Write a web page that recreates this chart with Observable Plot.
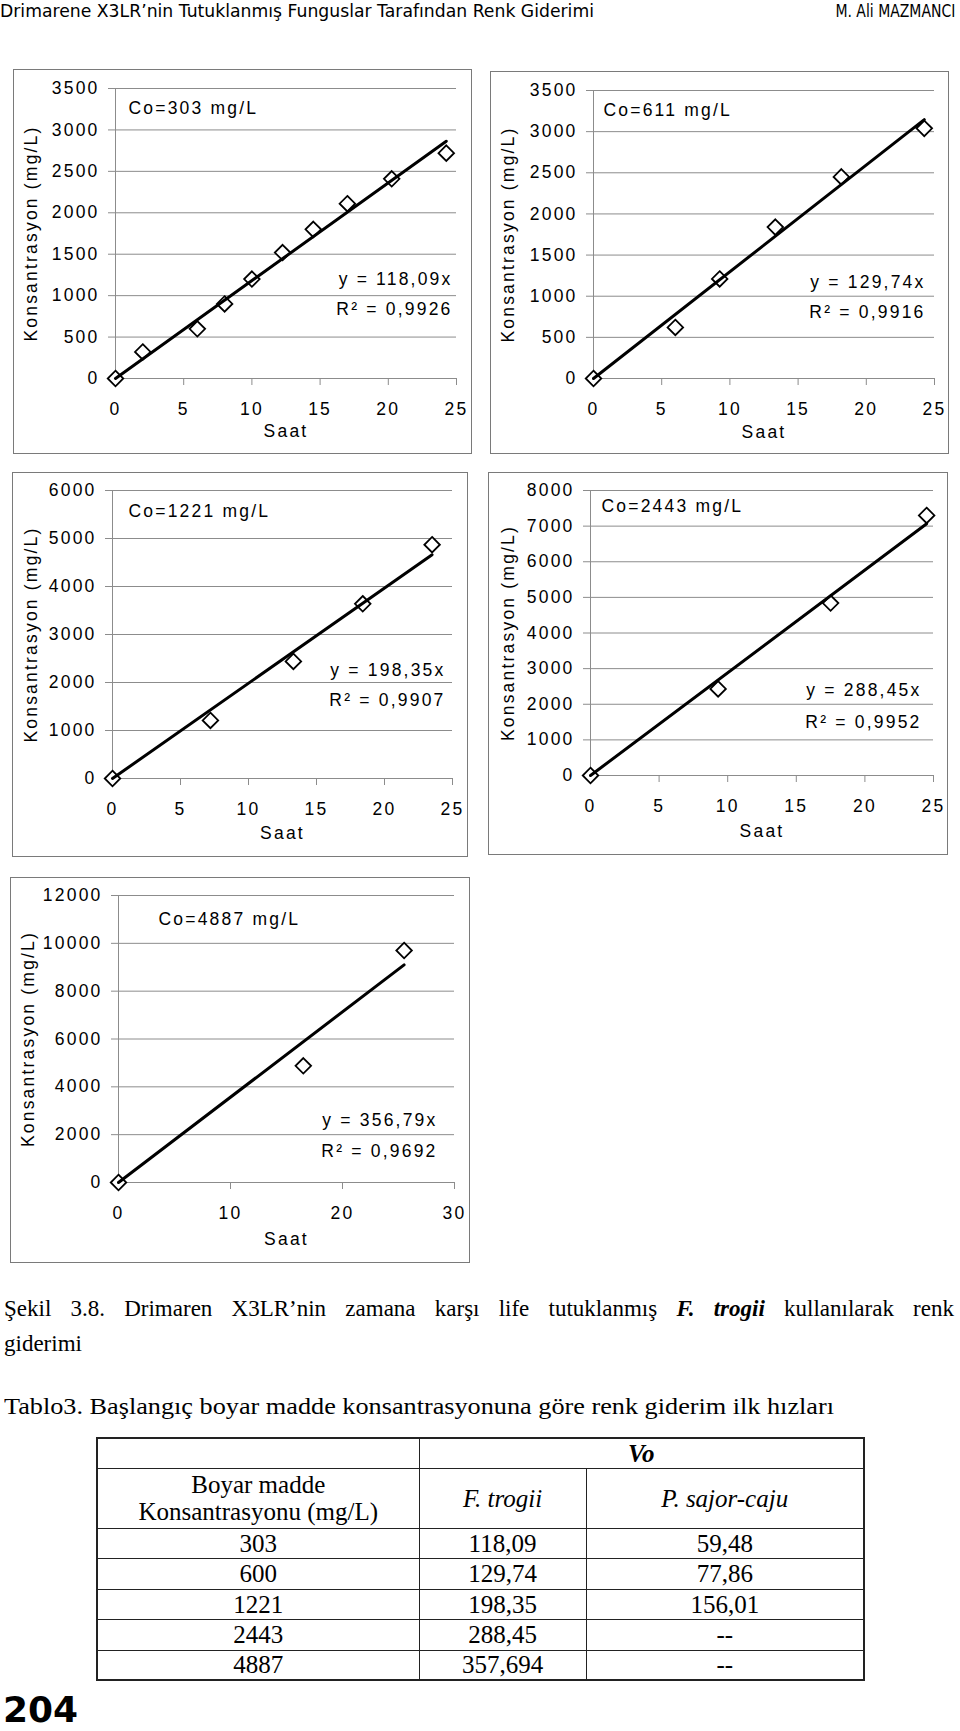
<!DOCTYPE html>
<html><head><meta charset="utf-8">
<script src="https://cdn.jsdelivr.net/npm/d3@7"></script>
<script src="https://cdn.jsdelivr.net/npm/@observablehq/plot@0.6"></script>
<style>
html,body{margin:0;padding:0;background:#fff;}
body{width:960px;height:1731px;position:relative;overflow:hidden;}
.t{position:absolute;white-space:nowrap;line-height:1;}
.fit{display:inline-block;}
.box{position:absolute;border:1px solid #7a7a7a;box-sizing:border-box;pointer-events:none;}
.chart{position:absolute;}
table.tab{position:absolute;left:96px;top:1437px;width:767px;border-collapse:collapse;table-layout:fixed;
  font-family:"Liberation Serif","Times New Roman",serif;font-size:25px;color:#000;border:2px solid #222;}
table.tab td{border:1.5px solid #222;text-align:center;vertical-align:middle;padding:0;line-height:27px;}
</style></head><body>
<script>
// ---------- data ----------
const coLabels = ["Co=303 mg/L", "Co=611 mg/L", "Co=1221 mg/L", "Co=2443 mg/L", "Co=4887 mg/L"];
const slopes = [118.09, 129.74, 198.35, 288.45, 356.79];
const slopeLabels = ["118,09", "129,74", "198,35", "288,45", "356,79"];
const r2Labels = ["0,9926", "0,9916", "0,9907", "0,9952", "0,9692"];

const saat303 = [0, 2, 6, 8, 10, 12.25, 14.5, 17, 20.25, 24.25];
const kons303 = [0, 320, 600, 900, 1200, 1520, 1800, 2110, 2410, 2720];
const saat611 = [0, 6, 9.25, 13.33, 18.17, 24.25];
const kons611 = [0, 620, 1210, 1840, 2450, 3040];
const saat1221 = [0, 7.2, 13.3, 18.4, 23.5];
const kons1221 = [0, 1210, 2440, 3640, 4870];
const saat2443 = [0, 9.3, 17.5, 24.5];
const kons2443 = [0, 2430, 4840, 7300];
const saat4887 = [0, 16.5, 25.5];
const kons4887 = [0, 4880, 9700];

const yMaxes = [3500, 3500, 6000, 8000, 12000];
const yTickSteps = [500, 500, 1000, 1000, 2000];
const xMaxes = [25, 25, 25, 25, 30];
const xTickSteps = [5, 5, 5, 5, 10];
const xTitle = "Saat";
const yTitle = "Konsantrasyon (mg/L)";

const tableConc = ["303", "600", "1221", "2443", "4887"];
const tableFtrogii = ["118,09", "129,74", "198,35", "288,45", "357,694"];
const tablePsajor = ["59,48", "77,86", "156,01", "--", "--"];

const saatSeries = [saat303, saat611, saat1221, saat2443, saat4887];
const konsSeries = [kons303, kons611, kons1221, kons2443, kons4887];

// ---------- layout (positions only) ----------
const layouts = [
  {box:[13,69,472,454], frame:[115,88,456,378], co:[13,25], eq:[4,94,64], saat:58, yt:79},
  {box:[490,71,949,454], frame:[593,90,934,378], co:[10,25], eq:[9,91,61], saat:59, yt:80},
  {box:[12,472,468,857], frame:[112,490,452,778], co:[16,26], eq:[7,103,73], saat:60, yt:76},
  {box:[488,472,948,855], frame:[590,490,933,775], co:[11,21], eq:[12,80,48], saat:61, yt:77},
  {box:[10,877,470,1263], frame:[118,895,454,1182], co:[40,29], eq:[17,57,26], saat:62, yt:85}
];
const GRID = "#8c8c8c";

function drawChart(i) {
  const L = layouts[i];
  const data = saatSeries[i].map((s, j) => ({saat: s, kons: konsSeries[i][j]}));
  const xEnd = d3.max(saatSeries[i]);
  const fit = [{saat: 0, kons: 0}, {saat: xEnd, kons: slopes[i] * xEnd}];
  const yT = d3.range(0, yMaxes[i] + 1, yTickSteps[i]);
  const xT = d3.range(0, xMaxes[i] + 1, xTickSteps[i]);
  const W = L.box[2] - L.box[0], H = L.box[3] - L.box[1];
  const svg = Plot.plot({
    width: W, height: H,
    marginLeft: L.frame[0] - L.box[0], marginRight: L.box[2] - L.frame[2],
    marginTop: L.frame[1] - L.box[1], marginBottom: L.box[3] - L.frame[3],
    x: {domain: [0, xMaxes[i]]},
    y: {domain: [0, yMaxes[i]]},
    style: "font-family:'Liberation Sans',Arial,sans-serif;font-size:17.5px;letter-spacing:2.2px;color:#000;background:transparent;overflow:visible;",
    marks: [
      Plot.ruleY(yT, {stroke: GRID, strokeWidth: 1}),
      Plot.ruleX([0], {stroke: GRID, strokeWidth: 1}),
      Plot.axisY({ticks: yT, tickSize: 7, tickPadding: 9, stroke: GRID, strokeOpacity: 1, label: null, tickFormat: d => String(d)}),
      Plot.axisX({ticks: xT, tickSize: 7, tickPadding: 17, stroke: GRID, strokeOpacity: 1, label: null, tickFormat: d => String(d)}),
      Plot.dot(data, {x: "saat", y: "kons", symbol: "diamond2", r: 7, fill: "white", stroke: "black", strokeWidth: 1.8}),
      Plot.line(fit, {x: "saat", y: "kons", stroke: "black", strokeWidth: 3}),
      Plot.text([coLabels[i]], {text: d => d, frameAnchor: "top-left", dx: L.co[0], dy: L.co[1], textAnchor: "start", lineAnchor: "bottom"}),
      Plot.text(["y = " + slopeLabels[i] + "x"], {text: d => d, frameAnchor: "bottom-right", dx: -L.eq[0], dy: -L.eq[1], textAnchor: "end", lineAnchor: "bottom"}),
      Plot.text(["R² = " + r2Labels[i]], {text: d => d, frameAnchor: "bottom-right", dx: -L.eq[0], dy: -L.eq[2], textAnchor: "end", lineAnchor: "bottom"}),
      Plot.text([xTitle], {text: d => d, frameAnchor: "bottom", dy: L.saat, textAnchor: "middle", lineAnchor: "bottom"}),
      Plot.text([yTitle], {text: d => d, frameAnchor: "left", dx: -L.yt, rotate: -90, textAnchor: "middle", lineAnchor: "bottom"})
    ]
  });
  const wrap = document.createElement("div");
  wrap.className = "chart";
  wrap.style.left = L.box[0] + "px";
  wrap.style.top = L.box[1] + "px";
  wrap.appendChild(svg);
  document.body.appendChild(wrap);
  const b = document.createElement("div");
  b.className = "box";
  b.style.left = L.box[0] + "px"; b.style.top = L.box[1] + "px";
  b.style.width = W + "px"; b.style.height = H + "px";
  document.body.appendChild(b);
}
for (let i = 0; i < 5; i++) drawChart(i);

// ---------- page texts ----------
function addText(html, opts) {
  const d = document.createElement("div");
  d.className = "t";
  d.style.font = opts.font;
  d.style.lineHeight = "1";
  d.style.top = opts.top + "px";
  if (opts.left != null) d.style.left = opts.left + "px";
  if (opts.right != null) d.style.right = opts.right + "px";
  const s = document.createElement("span");
  s.className = "fit";
  s.innerHTML = html;
  d.appendChild(s);
  document.body.appendChild(d);
  if (opts.width) {
    const w = s.getBoundingClientRect().width;
    s.style.transformOrigin = opts.right != null ? "right" : "left";
    s.style.transform = "scaleX(" + (opts.width / w) + ")";
  }
  return d;
}
addText("Drimarene X3LR’nin Tutuklanmış Funguslar Tarafından Renk Giderimi", {font: "18px 'DejaVu Sans'", left: 0, top: 2, width: 594});
addText("M. Ali MAZMANCI", {font: "18px 'DejaVu Sans'", right: 5, top: 2, width: 120});

// caption line 1 justified
const cap = document.createElement("div");
cap.style.cssText = "position:absolute;left:4px;top:1297px;width:950px;font:23px 'Liberation Serif',serif;line-height:23px;text-align:justify;text-align-last:justify;white-space:normal;";
cap.innerHTML = "Şekil 3.8. Drimaren X3LR’nin zamana karşı life tutuklanmış <b><i>F. trogii</i></b> kullanılarak renk";
document.body.appendChild(cap);
addText("giderimi", {font: "23px 'Liberation Serif',serif", left: 4, top: 1332});
addText("Tablo3. Başlangıç boyar madde konsantrasyonuna göre renk giderim ilk hızları", {font: "24px 'Liberation Serif',serif", left: 4, top: 1394, width: 830});

// table
const rowHeights = [30, 31, 30, 31, 30];
const tbl = document.createElement("table");
tbl.className = "tab";
let html = '<colgroup><col style="width:322px"><col style="width:167px"><col style="width:278px"></colgroup>';
html += '<tr style="height:30px"><td></td><td colspan="2"><b><i>Vo</i></b></td></tr>';
html += '<tr style="height:60px"><td>Boyar madde<br>Konsantrasyonu (mg/L)</td><td><i>F. trogii</i></td><td><i>P. sajor-caju</i></td></tr>';
for (let i = 0; i < tableConc.length; i++) {
  html += '<tr style="height:' + rowHeights[i] + 'px"><td>' + tableConc[i] + '</td><td>' + tableFtrogii[i] + '</td><td>' + tablePsajor[i] + '</td></tr>';
}
tbl.innerHTML = html;
document.body.appendChild(tbl);

addText("204", {font: "bold 36px 'DejaVu Sans'", left: 3, top: 1692});
</script>
</body></html>
